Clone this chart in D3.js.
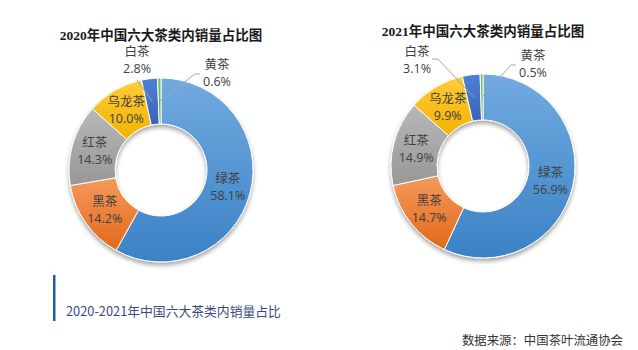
<!DOCTYPE html>
<html>
<head>
<meta charset="utf-8">
<script src="https://cdn.jsdelivr.net/npm/d3@7/dist/d3.min.js"></script>
<style>
  html, body { margin: 0; padding: 0; background: #fff; }
  svg { display: block; }
</style>
</head>
<body>
<svg id="chart" width="638" height="350"></svg>
<script>
// Six tea categories, in clockwise order from 12 o'clock
const categories = ["绿茶", "黑茶", "红茶", "乌龙茶", "白茶", "黄茶"];
const share2020 = [58.1, 14.2, 14.3, 10.0, 2.8, 0.6];
const share2021 = [56.9, 14.7, 14.9, 9.9, 3.1, 0.5];
const titles = ["2020年中国六大茶类内销量占比图", "2021年中国六大茶类内销量占比图"];
const caption = "2020-2021年中国六大茶类内销量占比";
const source = "数据来源：中国茶叶流通协会";

// Slice fills: [top colour, bottom colour] per category
const fills = {
  "绿茶":  ["#72AAE0", "#3A82C6"],
  "黑茶":  ["#F5995C", "#E2691A"],
  "红茶":  ["#B8B8B8", "#979797"],
  "乌龙茶": ["#FFCC3A", "#F2B300"],
  "白茶":  ["#4F80D3", "#3763B8"],
  "黄茶":  ["#80C158", "#62A23B"]
};

// Small slices get their label outside with a leader line
const outsideLabels = {
  "白茶": { dx: -24, dy: -110, anchor: "below" },
  "黄茶": { dx: 56, dy: -97, anchor: "left" }
};
const outsideLabels2021 = {
  "白茶": { dx: -66, dy: -106, anchor: "right" },
  "黄茶": { dx: 50, dy: -102, anchor: "left" }
};

const svg = d3.select("#chart");
const defs = svg.append("defs");

const shadow = defs.append("filter").attr("id", "donutShadow")
  .attr("x", "-20%").attr("y", "-20%").attr("width", "140%").attr("height", "140%");
shadow.append("feDropShadow")
  .attr("dx", 0).attr("dy", 3).attr("stdDeviation", 2.2)
  .attr("flood-color", "#000").attr("flood-opacity", 0.35);

categories.forEach((c, i) => {
  const g = defs.append("linearGradient").attr("id", "grad" + i)
    .attr("x1", 0).attr("y1", 0).attr("x2", 0).attr("y2", 1);
  g.append("stop").attr("offset", "0%").attr("stop-color", fills[c][0]);
  g.append("stop").attr("offset", "100%").attr("stop-color", fills[c][1]);
});

const outerR = 92, innerR = 46;
const pie = d3.pie().sort(null).value(d => d.value);
const arc = d3.arc().innerRadius(innerR).outerRadius(outerR);
const labelFont = "'Open Sans', 'Noto Sans CJK SC', sans-serif";

function drawDonut(cx, cy, values, title, outside) {
  const data = categories.map((c, i) => ({ name: c, value: values[i], idx: i }));
  const g = svg.append("g").attr("transform", `translate(${cx},${cy})`);

  g.append("text")
    .attr("x", 0).attr("y", -130)
    .attr("text-anchor", "middle")
    .attr("font-family", "'Liberation Serif', 'Noto Sans CJK SC', serif")
    .attr("font-weight", "bold")
    .attr("font-size", 13.5)
    .attr("fill", "#1a1a1a")
    .text(title);

  const arcs = pie(data);
  g.append("g").attr("filter", "url(#donutShadow)")
    .selectAll("path").data(arcs).join("path")
    .attr("d", arc)
    .attr("fill", d => `url(#grad${d.data.idx})`)
    .attr("stroke", "#fff")
    .attr("stroke-width", 1);

  arcs.forEach(d => {
    const name = d.data.name;
    const pct = d3.format(".1f")(d.data.value) + "%";
    const [mx, my] = arc.centroid(d);
    let lx = mx, ly = my;
    const o = outside[name];
    if (o) {
      lx = o.dx; ly = o.dy;
      let sx, sy, pts;
      if (o.anchor === "below") {
        sx = lx; sy = ly + 20;
        pts = [[sx, sy], [mx, my]];
      } else if (o.anchor === "left") {
        sx = lx - 17; sy = ly + 1;
        pts = [[sx, sy], [sx - 5, sy], [mx, my]];
      } else {
        sx = lx + 15; sy = ly - 1;
        pts = [[sx, sy], [sx + 6, sy], [mx, my]];
      }
      g.append("path")
        .attr("d", d3.line()(pts))
        .attr("fill", "none")
        .attr("stroke", "#A6A6A6")
        .attr("stroke-width", 1);
    }
    const t = g.append("text")
      .attr("text-anchor", "middle")
      .attr("font-family", labelFont)
      .attr("font-size", 12.5)
      .attr("fill", "#404040");
    t.append("tspan").attr("x", lx).attr("y", ly - 4).text(name);
    t.append("tspan").attr("x", lx).attr("y", ly + 13).text(pct);
  });
}

drawDonut(161, 170, share2020, titles[0], outsideLabels);
drawDonut(483, 166, share2021, titles[1], outsideLabels2021);

// Caption with accent bar
svg.append("rect")
  .attr("x", 53).attr("y", 275).attr("width", 2.5).attr("height", 46)
  .attr("fill", "#1F5BB5");
svg.append("text")
  .attr("x", 66).attr("y", 316)
  .attr("font-family", "'Noto Sans CJK SC', sans-serif")
  .attr("font-size", 12.8)
  .attr("fill", "#3A4A7E")
  .text(caption);

svg.append("text")
  .attr("x", 623).attr("y", 345)
  .attr("text-anchor", "end")
  .attr("font-family", "'Noto Sans CJK SC', sans-serif")
  .attr("font-size", 12.4)
  .attr("fill", "#333")
  .text(source);
</script>
</body>
</html>
